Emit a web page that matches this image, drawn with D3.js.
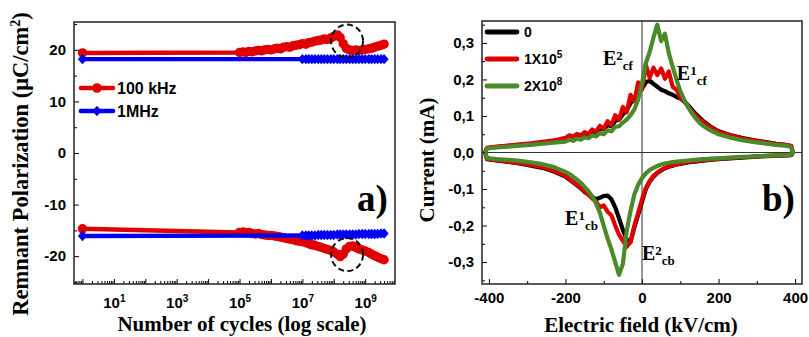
<!DOCTYPE html>
<html>
<head>
<meta charset="utf-8">
<script src="https://cdn.jsdelivr.net/npm/d3@7"></script>
<style>
body{margin:0;background:#fff;}
svg text{font-family:"Liberation Sans",Arial,sans-serif;font-weight:bold;fill:#000;}
svg text.serif{font-family:"Liberation Serif","Times New Roman",serif;}
</style>
</head>
<body>
<script>
// ---------- a) remnant polarization vs cycles ----------
var cycles100k = [1,
  1e5, 1.3e5, 1.6e5, 2e5, 2.5e5, 3.2e5, 4e5, 5e5, 6.3e5, 8e5,
  1e6, 1.3e6, 1.6e6, 2e6, 2.5e6, 3.2e6, 4e6, 5e6, 6.3e6, 8e6,
  1e7, 1.3e7, 1.6e7, 2e7, 2.5e7, 3.2e7, 4e7, 5e7, 6.3e7, 8e7,
  1e8, 1.3e8, 1.6e8, 2e8, 2.5e8, 3.2e8, 4e8, 5e8, 6.3e8, 8e8,
  1e9, 1.3e9, 1.6e9, 2e9, 2.5e9, 3.2e9, 4e9];
var prUp100k = [19.4,
  19.5, 19.6, 19.5, 19.7, 19.6, 19.8, 19.9, 19.8, 20.0, 20.1,
  20.0, 20.2, 20.3, 20.2, 20.5, 20.6, 20.5, 20.8, 20.9, 21.0,
  21.2, 21.1, 21.4, 21.5, 21.7, 21.8, 21.9, 22.1, 22.0, 22.3,
  22.6, 22.9, 22.4, 21.2, 20.3, 20.0, 19.9, 20.0, 19.9, 20.0,
  20.1, 20.2, 20.3, 20.5, 20.7, 20.9, 21.1];
var prDown100k = [-14.7,
  -15.4, -15.3, -15.5, -15.4, -15.6, -15.7, -15.6, -15.8, -15.9, -16.0,
  -16.0, -16.1, -16.2, -16.3, -16.4, -16.6, -16.7, -16.8, -17.0, -17.1,
  -17.2, -17.4, -17.6, -17.8, -17.9, -18.1, -18.3, -18.5, -18.7, -18.9,
  -19.2, -19.6, -20.1, -19.6, -18.6, -18.1, -18.0, -18.3, -18.6, -18.8,
  -19.0, -19.3, -19.6, -19.9, -20.2, -20.5, -20.7];

var cycles1M = [1,
  1e7, 1.3e7, 1.6e7, 2e7, 2.5e7, 3.2e7, 4e7, 5e7, 6.3e7, 8e7,
  1e8, 1.3e8, 1.6e8, 2e8, 2.5e8, 3.2e8, 4e8, 5e8, 6.3e8, 8e8,
  1e9, 1.3e9, 1.6e9, 2e9, 2.5e9, 3.2e9, 4e9];
var prUp1M = [18.2,
  18.2, 18.2, 18.2, 18.2, 18.2, 18.2, 18.2, 18.2, 18.2, 18.2,
  18.2, 18.2, 18.2, 18.2, 18.2, 18.2, 18.2, 18.2, 18.2, 18.2,
  18.2, 18.2, 18.2, 18.2, 18.2, 18.2, 18.2];
var prDown1M = [-16.1,
  -16.0, -16.0, -16.0, -16.0, -16.0, -15.9, -15.9, -15.9, -15.9, -15.9,
  -15.9, -15.8, -15.8, -15.8, -15.8, -15.8, -15.8, -15.8, -15.7, -15.7,
  -15.7, -15.7, -15.7, -15.7, -15.7, -15.6, -15.6];

var cycleTicks = [1, 1e1, 1e2, 1e3, 1e4, 1e5, 1e6, 1e7, 1e8, 1e9];
var polTicks = [-20, -10, 0, 10, 20];
var polMinor = [-25, -15, -5, 5, 15, 25];
var legendA = ['100 kHz', '1MHz'];
// dashed circles (cycles, polarization)
var circleCycles = [2.65e8, 2.65e8];
var circlePol = [21.7, -19.7];

// ---------- b) current vs electric field ----------
var fieldGrid = [-410, -405, -380, -350, -320, -290, -260, -230,
  -200, -190, -180, -170, -160, -150, -140, -130, -120, -110, -100, -90, -80, -70, -60, -50, -40, -30, -20, -10,
  0, 10, 20, 30, 40, 50, 60, 70, 80, 90, 100, 110, 120, 130, 140, 150, 160, 170, 180, 190, 200,
  230, 260, 290, 320, 350, 380, 390, 394];

var upCur0 = [0.000, 0.012, 0.015, 0.018, 0.021, 0.024, 0.027, 0.031,
  0.036, 0.043, 0.040, 0.047, 0.044, 0.052, 0.049, 0.058, 0.055, 0.066, 0.063, 0.075, 0.072, 0.086, 0.090, 0.104, 0.115, 0.135, 0.150, 0.162,
  0.175, 0.192, 0.197, 0.188, 0.180, 0.172, 0.168, 0.162, 0.158, 0.152, 0.148, 0.140, 0.130, 0.118, 0.106, 0.096, 0.086, 0.078, 0.070, 0.064, 0.058,
  0.048, 0.040, 0.034, 0.029, 0.024, 0.020, 0.017, 0.000];
var downCur0 = [0.000, -0.018, -0.022, -0.026, -0.030, -0.036, -0.042, -0.052,
  -0.066, -0.074, -0.082, -0.090, -0.098, -0.108, -0.115, -0.122, -0.128, -0.124, -0.119, -0.118, -0.128, -0.150, -0.180, -0.212, -0.238, -0.245, -0.205, -0.170,
  -0.135, -0.100, -0.080, -0.066, -0.056, -0.049, -0.043, -0.039, -0.036, -0.033, -0.031, -0.029, -0.027, -0.026, -0.025, -0.023, -0.022, -0.021, -0.020, -0.019, -0.018,
  -0.016, -0.014, -0.012, -0.010, -0.009, -0.008, -0.007, 0.000];

var upCur1e5 = [0.000, 0.013, 0.016, 0.019, 0.022, 0.025, 0.029, 0.033,
  0.040, 0.047, 0.043, 0.051, 0.047, 0.056, 0.051, 0.063, 0.057, 0.073, 0.065, 0.086, 0.075, 0.102, 0.090, 0.125, 0.110, 0.158, 0.140, 0.192,
  0.172, 0.240, 0.205, 0.232, 0.212, 0.230, 0.202, 0.222, 0.180, 0.172, 0.150, 0.140, 0.126, 0.113, 0.101, 0.091, 0.083, 0.075, 0.068, 0.062, 0.057,
  0.047, 0.039, 0.033, 0.028, 0.023, 0.020, 0.018, 0.000];
var downCur1e5 = [0.000, -0.017, -0.021, -0.025, -0.029, -0.034, -0.040, -0.050,
  -0.064, -0.072, -0.080, -0.088, -0.096, -0.105, -0.115, -0.126, -0.135, -0.150, -0.145, -0.162, -0.172, -0.200, -0.225, -0.242, -0.258, -0.245, -0.200, -0.165,
  -0.128, -0.098, -0.078, -0.064, -0.055, -0.048, -0.042, -0.038, -0.035, -0.032, -0.030, -0.028, -0.026, -0.025, -0.024, -0.022, -0.021, -0.020, -0.019, -0.018, -0.017,
  -0.015, -0.013, -0.011, -0.010, -0.008, -0.007, -0.006, 0.000];

var upCur2e8 = [0.000, 0.011, 0.014, 0.016, 0.019, 0.021, 0.024, 0.027,
  0.030, 0.035, 0.032, 0.038, 0.035, 0.042, 0.039, 0.047, 0.044, 0.053, 0.050, 0.061, 0.058, 0.070, 0.072, 0.082, 0.090, 0.102, 0.118, 0.145,
  0.190, 0.245, 0.275, 0.315, 0.350, 0.305, 0.325, 0.272, 0.235, 0.200, 0.168, 0.145, 0.125, 0.108, 0.094, 0.082, 0.073, 0.066, 0.060, 0.055, 0.050,
  0.041, 0.034, 0.029, 0.025, 0.021, 0.018, 0.015, 0.000];
var downCur2e8 = [0.000, -0.015, -0.018, -0.020, -0.023, -0.027, -0.032, -0.040,
  -0.053, -0.059, -0.066, -0.074, -0.083, -0.094, -0.106, -0.120, -0.140, -0.165, -0.200, -0.235, -0.265, -0.300, -0.335, -0.305, -0.215, -0.160, -0.115, -0.088,
  -0.070, -0.057, -0.048, -0.042, -0.037, -0.033, -0.030, -0.028, -0.026, -0.025, -0.024, -0.023, -0.022, -0.021, -0.020, -0.019, -0.018, -0.018, -0.017, -0.016, -0.016,
  -0.014, -0.012, -0.011, -0.009, -0.008, -0.007, -0.006, 0.000];

var loopNames = ['0', '1X10', '2X10'];
var loopExps = ['', '5', '8'];
var fieldTicks = [-400, -200, 0, 200, 400];
var fieldMinor = [-300, -100, 100, 300];
var currentTicks = [-0.3, -0.2, -0.1, 0, 0.1, 0.2, 0.3];
var currentMinor = [-0.35, -0.25, -0.15, -0.05, 0.05, 0.15, 0.25, 0.35];
// E labels: field, current, superscript, subscript
var annField = [-102, 91, -201, 0];
var annCurrent = [0.239, 0.198, -0.198, -0.293];
var annSup = ['2', '1', '1', '2'];
var annSub = ['cf', 'cf', 'cb', 'cb'];

var red = '#e00000', blue = '#0000f0', green = '#4a8a2a';

var svg = d3.select('body').append('svg').attr('width', 809).attr('height', 337);

function noLabel(){ return ''; }

// ================= panel a =================
var xa = d3.scaleLog().domain([0.537, 8.9e9]).range([74, 395]);
var ya = d3.scaleLinear().domain([-25.4, 25.4]).range([284, 22]);

var cycleMinor = [];
for (var k = -1; k <= 9; k++) {
  for (var m = 2; m <= 9; m++) {
    var v = m * Math.pow(10, k);
    if (v > xa.domain()[0] && v < xa.domain()[1]) cycleMinor.push(v);
  }
}

var gxa = svg.append('g').attr('transform', 'translate(0,284)')
  .call(d3.axisBottom(xa).tickValues(cycleTicks).tickSizeInner(-5).tickSizeOuter(0).tickPadding(13).tickFormat(noLabel));
gxa.attr('font-size', 15);
gxa.selectAll('.tick text').each(function(d){
  var p = Math.round(Math.log10(d));
  if (p % 2 === 1) {
    d3.select(this).text('10').append('tspan').attr('dy', -6).attr('font-size', 10).text(p);
  }
});
svg.append('g').attr('transform', 'translate(0,284)')
  .call(d3.axisBottom(xa).tickValues(cycleMinor).tickSizeInner(-3).tickSizeOuter(0).tickFormat(noLabel));

var gya = svg.append('g').attr('transform', 'translate(74,0)')
  .call(d3.axisLeft(ya).tickValues(polTicks).tickSizeInner(-5).tickSizeOuter(0).tickPadding(8)
    .tickFormat(function(d){ return d < 0 ? '-' + Math.abs(d) : '' + d; }));
gya.attr('font-size', 15);
svg.append('g').attr('transform', 'translate(74,0)')
  .call(d3.axisLeft(ya).tickValues(polMinor).tickSizeInner(-3).tickSizeOuter(0).tickFormat(noLabel));

var lineA = d3.line().x(function(d){ return xa(d[0]); }).y(function(d){ return ya(d[1]); });
var diamond = 'M0,-5.2L4.6,0L0,5.2L-4.6,0Z';

[prUp100k, prDown100k].forEach(function(vals){
  var pts = cycles100k.map(function(c, i){ return [c, vals[i]]; });
  svg.append('path').attr('d', lineA(pts)).attr('fill', 'none').attr('stroke', red).attr('stroke-width', 4.6);
  svg.append('g').selectAll('circle').data(pts).enter().append('circle')
    .attr('cx', function(d){ return xa(d[0]); }).attr('cy', function(d){ return ya(d[1]); })
    .attr('r', 4.7).attr('fill', red);
});
[prUp1M, prDown1M].forEach(function(vals){
  var pts = cycles1M.map(function(c, i){ return [c, vals[i]]; });
  svg.append('path').attr('d', lineA(pts)).attr('fill', 'none').attr('stroke', blue).attr('stroke-width', 4.4);
  svg.append('g').selectAll('path').data(pts).enter().append('path')
    .attr('d', diamond)
    .attr('transform', function(d){ return 'translate(' + xa(d[0]) + ',' + ya(d[1]) + ')'; })
    .attr('fill', blue);
});

// dashed circles
circleCycles.forEach(function(c, i){
  svg.append('ellipse').attr('cx', xa(c)).attr('cy', ya(circlePol[i])).attr('rx', 16).attr('ry', 16.5)
    .attr('fill', 'none').attr('stroke', '#111').attr('stroke-width', 2).attr('stroke-dasharray', '6,3.5');
});

// legend a
var legA = svg.append('g');
[red, blue].forEach(function(col, i){
  var y = 88 + i * 23;
  legA.append('line').attr('x1', 81).attr('x2', 113).attr('y1', y).attr('y2', y)
    .attr('stroke', col).attr('stroke-width', 4.6).attr('stroke-linecap', 'round');
  if (i === 0) legA.append('circle').attr('cx', 97).attr('cy', y).attr('r', 4.8).attr('fill', col);
  else legA.append('path').attr('d', diamond).attr('transform', 'translate(97,' + y + ')').attr('fill', col);
  legA.append('text').attr('x', 117).attr('y', y + 6).attr('font-size', 16).text(legendA[i]);
});

svg.append('rect').attr('x', 74).attr('y', 22).attr('width', 395 - 74).attr('height', 284 - 22)
  .attr('fill', 'none').attr('stroke', '#222').attr('stroke-width', 1.5);

svg.append('text').attr('class', 'serif').attr('x', 357).attr('y', 211).attr('font-size', 37).text('a)');
svg.append('text').attr('class', 'serif').attr('x', 242).attr('y', 331).attr('font-size', 21)
  .attr('text-anchor', 'middle').text('Number of cycles (log scale)');
var ta = svg.append('text').attr('class', 'serif').attr('transform', 'translate(28,164) rotate(-90)')
  .attr('font-size', 22.5).attr('text-anchor', 'middle');
ta.append('tspan').text('Remnant Polarization (\u03bcC/cm');
ta.append('tspan').attr('dy', -8).attr('font-size', 14).text('2');
ta.append('tspan').attr('dy', 8).text(')');

// ================= panel b =================
var xb = d3.scaleLinear().domain([-418, 418]).range([482, 802]);
var yb = d3.scaleLinear().domain([-0.36, 0.36]).range([284, 21]);

function fmtCur(d){
  var s = Math.abs(d).toFixed(1).replace('.', ',');
  return (d < -1e-9 ? '-' : '') + s;
}

var gxb = svg.append('g').attr('transform', 'translate(0,284)')
  .call(d3.axisBottom(xb).tickValues(fieldTicks).tickSizeInner(-5).tickSizeOuter(0).tickPadding(8)
    .tickFormat(function(d){ return d < 0 ? '-' + Math.abs(d) : '' + d; }));
gxb.attr('font-size', 15);
svg.append('g').attr('transform', 'translate(0,284)')
  .call(d3.axisBottom(xb).tickValues(fieldMinor).tickSizeInner(-3).tickSizeOuter(0).tickFormat(noLabel));
var gyb = svg.append('g').attr('transform', 'translate(482,0)')
  .call(d3.axisLeft(yb).tickValues(currentTicks).tickSizeInner(-5).tickSizeOuter(0).tickPadding(8).tickFormat(fmtCur));
gyb.attr('font-size', 15);
svg.append('g').attr('transform', 'translate(482,0)')
  .call(d3.axisLeft(yb).tickValues(currentMinor).tickSizeInner(-3).tickSizeOuter(0).tickFormat(noLabel));
svg.selectAll('.domain').remove();

// zero lines
svg.append('line').attr('x1', xb(0)).attr('x2', xb(0)).attr('y1', yb.range()[0]).attr('y2', yb.range()[1])
  .attr('stroke', '#333').attr('stroke-width', 1);
svg.append('line').attr('x1', xb.range()[0]).attr('x2', xb.range()[1]).attr('y1', yb(0)).attr('y2', yb(0))
  .attr('stroke', '#333').attr('stroke-width', 1);

var lineB = d3.line().x(function(d){ return xb(d[0]); }).y(function(d){ return yb(d[1]); });
var loops = [[upCur0, downCur0, '#000'], [upCur1e5, downCur1e5, red], [upCur2e8, downCur2e8, green]];
loops.forEach(function(l){
  var up = fieldGrid.map(function(e, i){ return [e, l[0][i]]; });
  var down = fieldGrid.map(function(e, i){ return [e, l[1][i]]; }).reverse();
  svg.append('path').attr('d', lineB(up.concat(down))).attr('fill', 'none')
    .attr('stroke', l[2]).attr('stroke-width', 4.2).attr('stroke-linejoin', 'round');
});

// legend b
var legB = svg.append('g');
loops.forEach(function(l, i){
  var y = 32 + i * 27;
  legB.append('line').attr('x1', 487).attr('x2', 517).attr('y1', y).attr('y2', y)
    .attr('stroke', l[2]).attr('stroke-width', 4.8).attr('stroke-linecap', 'round');
  var t = legB.append('text').attr('x', 524).attr('y', y + 5).attr('font-size', 14).text(loopNames[i]);
  if (loopExps[i]) t.append('tspan').attr('dy', -6).attr('font-size', 10).text(loopExps[i]);
});

// E labels
annField.forEach(function(e, i){
  var t = svg.append('text').attr('class', 'serif').attr('x', xb(e)).attr('y', yb(annCurrent[i])).attr('font-size', 20);
  t.append('tspan').text('E');
  t.append('tspan').attr('dy', -5).attr('font-size', 13).text(annSup[i]);
  t.append('tspan').attr('dy', 10).attr('font-size', 13).text(annSub[i]);
});

svg.append('rect').attr('x', 482).attr('y', 21).attr('width', 802 - 482).attr('height', 284 - 21)
  .attr('fill', 'none').attr('stroke', '#222').attr('stroke-width', 1.5);

svg.append('text').attr('class', 'serif').attr('x', 762).attr('y', 211).attr('font-size', 37).text('b)');
svg.append('text').attr('class', 'serif').attr('x', 641).attr('y', 332).attr('font-size', 21)
  .attr('text-anchor', 'middle').text('Electric field (kV/cm)');
svg.append('text').attr('class', 'serif').attr('transform', 'translate(434,160) rotate(-90)')
  .attr('font-size', 21).attr('text-anchor', 'middle').text('Current (mA)');
</script>
</body>
</html>
